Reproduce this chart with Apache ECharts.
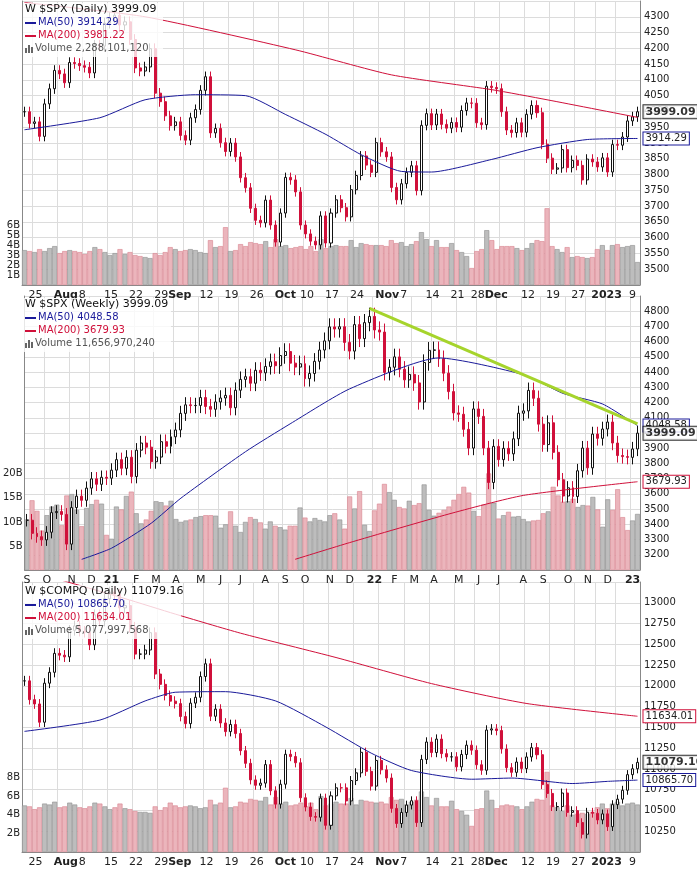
<!DOCTYPE html>
<html>
<head>
<meta charset="utf-8">
<script src="https://cdn.jsdelivr.net/npm/echarts@6/dist/echarts.min.js"></script>
<style>html,body{margin:0;padding:0;background:#fff}#chart{width:697px;height:877px}</style>
</head>
<body>
<div id="chart"></div>
<script>
// === Daily dates (trading days), Jul 21 2022 - Jan 13 2023
const DAILY_DAYS = {
  '2022-07': [21, 22, 25, 26, 27, 28, 29],
  '2022-08': [1, 2, 3, 4, 5, 8, 9, 10, 11, 12, 15, 16, 17, 18, 19, 22, 23, 24, 25, 26, 29, 30, 31],
  '2022-09': [1, 2, 6, 7, 8, 9, 12, 13, 14, 15, 16, 19, 20, 21, 22, 23, 26, 27, 28, 29, 30],
  '2022-10': [3, 4, 5, 6, 7, 10, 11, 12, 13, 14, 17, 18, 19, 20, 21, 24, 25, 26, 27, 28, 31],
  '2022-11': [1, 2, 3, 4, 7, 8, 9, 10, 11, 14, 15, 16, 17, 18, 21, 22, 23, 25, 28, 29, 30],
  '2022-12': [1, 2, 5, 6, 7, 8, 9, 12, 13, 14, 15, 16, 19, 20, 21, 22, 23, 27, 28, 29, 30],
  '2023-01': [3, 4, 5, 6, 9, 10, 11, 12, 13]
};

// x labels for the daily panels ('' = grid line only)
// "2023" and "9" sit too close to be two labels, so they share one
const DAILY_TICKS = {
  '2022-07-25': '25', '2022-08-01': '{b|Aug}', '2022-08-08': '8', '2022-08-15': '15',
  '2022-08-22': '22', '2022-08-29': '29{b|Sep}', '2022-09-06': '', '2022-09-12': '12',
  '2022-09-19': '19', '2022-09-26': '26', '2022-10-03': '{b|Oct}', '2022-10-10': '10',
  '2022-10-17': '17', '2022-10-24': '24', '2022-10-31': '{b|Nov}', '2022-11-07': '7',
  '2022-11-14': '14', '2022-11-21': '21', '2022-11-28': '28{b|Dec}', '2022-12-05': '',
  '2022-12-12': '12', '2022-12-19': '19', '2022-12-27': '27', '2023-01-03': '{b|2023}  9',
  '2023-01-09': ''
};

// $SPX daily closes
const SPX_CLOSE = [
  3999, 3962, 3967, 3921, 4024, 4072, 4130,
  4119, 4091, 4155, 4152, 4145, 4140, 4122, 4210, 4207, 4280, 4297, 4305, 4274, 4284, 4228, 4138, 4128, 4141, 4199, 4058, 4031, 3986, 3955,
  3967, 3924, 3909, 3980, 4006, 4067, 4110, 3932, 3946, 3901, 3873, 3900, 3856, 3790, 3758, 3693, 3655, 3647, 3719, 3640, 3586,
  3678, 3791, 3783, 3745, 3640, 3612, 3589, 3577, 3669, 3583, 3678, 3720, 3695, 3666, 3752, 3797, 3859, 3830, 3807, 3901, 3872,
  3856, 3759, 3720, 3771, 3807, 3828, 3749, 3956, 3993, 3957, 3992, 3959, 3947, 3965, 3950, 4003, 4027, 4026, 3964, 3958, 4080,
  4076, 4072, 3999, 3941, 3933, 3964, 3934, 3991, 4019, 3996, 3896, 3852, 3817, 3821, 3879, 3822, 3845, 3829, 3783, 3849, 3840,
  3824, 3853, 3808, 3895, 3893, 3919, 3970, 3983, 3999.09
];
// $SPX daily volume, billions
const SPX_VOL = [
  3.5, 3.4, 3.3, 3.6, 3.4, 3.7, 3.9,
  3.2, 3.4, 3.5, 3.4, 3.3, 3.1, 3.4, 3.8, 3.6, 3.3, 3.0, 3.2, 3.6, 3.1, 3.3, 3.0, 2.9, 2.8, 2.7, 3.2, 3.0, 3.3, 3.8,
  3.6, 3.4, 3.5, 3.6, 3.5, 3.3, 3.2, 4.5, 3.8, 3.9, 5.8, 3.4, 3.5, 4.1, 3.9, 4.3, 4.2, 4.1, 4.4, 3.8, 4.6,
  3.9, 4.0, 3.7, 3.8, 3.9, 3.6, 3.9, 3.4, 4.6, 3.7, 3.9, 4.0, 3.9, 3.9, 4.5, 3.8, 4.2, 4.1, 4.0, 4.0, 4.0,
  3.9, 4.5, 4.2, 4.3, 3.9, 4.1, 4.4, 5.3, 4.6, 3.9, 4.5, 3.8, 3.8, 4.2, 3.5, 3.3, 2.9, 1.7, 3.4, 3.6, 5.5,
  4.5, 3.6, 3.9, 3.9, 3.9, 3.7, 3.5, 3.7, 4.2, 4.5, 4.4, 7.7, 3.9, 3.6, 3.3, 3.8, 2.8, 2.9, 2.8, 2.7, 2.8,
  3.6, 4.0, 3.5, 4.0, 4.1, 3.8, 3.9, 4.0, 2.3
];
// moving averages: [day index, value]
const SPX_MA50 = [[0, 3942], [15, 3980], [24, 4037], [34, 4053], [44, 4050], [52, 3990], [60, 3927], [67, 3863], [75, 3810], [81, 3808], [93, 3848], [102, 3885], [112, 3911], [122, 3914.29]];
const SPX_MA200 = [[0, 4345], [24, 4300], [54, 4195], [73, 4116], [93, 4069], [104, 4037], [122, 3981.22]];

// $COMPQ daily closes
const COMPQ_CLOSE = [
  12060, 11834, 11782, 11562, 12032, 12163, 12391,
  12369, 12349, 12668, 12721, 12658, 12645, 12493, 12855, 12780, 13048, 13129, 13103, 12939, 12966, 12706, 12382, 12382, 12432, 12640, 12142, 12018, 11884, 11816,
  11786, 11631, 11545, 11792, 11862, 12112, 12266, 11634, 11720, 11553, 11449, 11535, 11426, 11220, 11067, 10868, 10803, 10829, 11052, 10737, 10576,
  10816, 11176, 11149, 11074, 10653, 10542, 10427, 10418, 10649, 10321, 10676, 10773, 10772, 10615, 10860, 10953, 11200, 10971, 10793, 11102, 10989,
  10891, 10525, 10343, 10476, 10565, 10617, 10354, 11114, 11324, 11197, 11359, 11184, 11144, 11146, 11025, 11174, 11286, 11226, 11050, 10984, 11468,
  11482, 11462, 11240, 11015, 10959, 11083, 11005, 11144, 11256, 11171, 10811, 10705, 10546, 10547, 10710, 10477, 10498, 10354, 10214, 10479, 10466,
  10386, 10459, 10305, 10570, 10636, 10743, 10931, 11002, 11079.16
];
const COMPQ_VOL = [
  5.0, 4.9, 4.6, 4.8, 5.2, 5.1, 5.4,
  4.8, 4.9, 5.3, 5.1, 4.8, 4.7, 4.9, 5.3, 5.2, 4.9, 4.6, 4.8, 5.2, 4.7, 4.6, 4.4, 4.3, 4.3, 4.2, 4.9, 4.5, 4.8, 5.3,
  5.0, 4.8, 4.9, 5.0, 4.9, 4.7, 4.8, 5.6, 5.1, 5.3, 6.9, 4.8, 4.9, 5.4, 5.3, 5.7, 5.6, 5.5, 5.9, 5.1, 5.9,
  5.2, 5.4, 5.0, 5.1, 5.3, 4.9, 5.3, 4.6, 6.0, 5.0, 5.2, 5.4, 5.2, 5.2, 5.8, 5.1, 5.6, 5.5, 5.4, 5.3, 5.4,
  5.2, 5.9, 5.6, 5.7, 5.1, 5.4, 5.6, 6.5, 5.9, 5.0, 5.8, 4.9, 4.9, 5.5, 4.6, 4.4, 4.0, 2.8, 4.6, 4.7, 6.6,
  5.6, 4.7, 5.0, 5.1, 5.0, 4.9, 4.6, 4.9, 5.4, 5.7, 5.6, 8.6, 5.0, 4.8, 4.4, 5.0, 4.0, 4.1, 4.2, 4.1, 4.3,
  4.8, 5.2, 4.7, 5.2, 5.4, 5.0, 5.2, 5.3, 5.1
];
const COMPQ_MA50 = [[0, 11452], [15, 11588], [24, 11818], [30, 11923], [40, 11930], [50, 11818], [60, 11504], [69, 11190], [77, 10981], [89, 10876], [97, 10890], [109, 10824], [116, 10850], [122, 10865.70]];
const COMPQ_MA200 = [[0, 13400], [20, 13050], [30, 12864], [43, 12634], [62, 12341], [81, 12027], [100, 11787], [122, 11634.01]];

// $SPX weekly closes, week of Sep 4 2020 - Jan 13 2023
const WEEK_START = '2020-09-04';
const SPXW_CLOSE = [
  3427, 3341, 3319, 3298, 3348, 3477, 3484, 3465, 3270, 3510, 3585, 3558, 3638, 3699, 3663, 3709, 3703, 3756,
  3825, 3768, 3841, 3714, 3887, 3934, 3907, 3811, 3842, 3943, 3913, 3975, 4020, 4129, 4185, 4180, 4181, 4233, 4174, 4156, 4204, 4230, 4247, 4166, 4281, 4352, 4370, 4327, 4412, 4395, 4437, 4468, 4442, 4509, 4535, 4459, 4433, 4455, 4357, 4391, 4471, 4545, 4605, 4697, 4683, 4698, 4595, 4538, 4712, 4620, 4725, 4766,
  4677, 4663, 4398, 4432, 4500, 4419, 4349, 4385, 4329, 4204, 4463, 4543, 4546, 4488, 4393, 4272, 4132, 4123, 4024, 3901, 4158, 4109, 3901, 3675, 3912, 3825, 3899, 3863, 3962, 4130, 4145, 4280, 4228, 4058, 3924, 4067, 3873, 3693, 3586, 3640, 3583, 3752, 3901, 3771, 3993, 3965, 4026, 4072, 3934, 3852, 3845, 3840,
  3895, 3999.09
];
const SPXW_VOL = [
  10.5, 14.5, 12.3, 8.2, 11.4, 13.2, 13.6, 9.3, 15.5, 15.8, 12.5, 9.1, 12.9, 13.7, 14.6, 13.8, 7.3, 6.5,
  13.2, 12.6, 15.4, 16.3, 11.8, 9.7, 10.5, 12.3, 14.3, 14.1, 13.4, 14.4, 10.6, 10.0, 10.3, 10.5, 11.0, 11.2, 11.4, 11.4, 11.3, 8.8, 9.5, 12.2, 9.2, 7.9, 10.0, 11.0, 10.6, 9.9, 8.6, 10.1, 9.2, 8.9, 8.4, 9.2, 9.2, 13.0, 10.9, 10.1, 10.8, 10.4, 10.1, 11.4, 11.8, 10.5, 8.6, 15.3, 12.8, 16.4, 9.4, 8.1,
  12.4, 13.8, 17.9, 16.2, 14.6, 13.1, 12.8, 14.4, 13.5, 13.9, 17.8, 12.5, 11.3, 11.9, 12.5, 13.2, 14.6, 15.8, 17.3, 16.1, 12.3, 11.2, 13.6, 20.1, 14.0, 10.7, 11.4, 12.1, 11.1, 11.2, 10.6, 10.1, 10.3, 10.4, 11.8, 12.2, 17.3, 15.5, 14.2, 14.3, 14.8, 13.1, 13.5, 13.4, 15.2, 12.6, 9.0, 14.7, 12.5, 16.8, 11.0, 8.3,
  10.3, 11.66
];
const SPXW_MA50 = [[11, 3170], [17, 3243], [25, 3407], [31, 3572], [44, 3877], [53, 4060], [65, 4290], [83, 4493], [100, 4383], [108, 4260], [116, 4190], [123, 4048.58]];
const SPXW_MA200 = [[54, 3170], [65, 3280], [85, 3468], [100, 3590], [123, 3679.93]];
// trendline from the Jan 2022 top
const TREND = [[69, 4818], [123, 4060]];

const MONTH_LETTERS = ['J', 'F', 'M', 'A', 'M', 'J', 'J', 'A', 'S', 'O', 'N', 'D'];

// === helpers
function pad(n) { return n < 10 ? '0' + n : '' + n; }

const dailyDates = [];
Object.keys(DAILY_DAYS).forEach(function (m) {
  DAILY_DAYS[m].forEach(function (d) { dailyDates.push(m + '-' + pad(d)); });
});
const weeklyDates = [];
(function () {
  const t = new Date(WEEK_START + 'T00:00:00Z');
  for (let i = 0; i < SPXW_CLOSE.length; i++) {
    const d = new Date(t.getTime() + i * 7 * 86400000);
    weeklyDates.push(d.getUTCFullYear() + '-' + pad(d.getUTCMonth() + 1) + '-' + pad(d.getUTCDate()));
  }
})();

// the daily ticks fall on week starts; the first trading day of that week gets the label
const dailyTickIdx = {};
Object.keys(DAILY_TICKS).forEach(function (k) {
  const i = dailyDates.findIndex(function (d) { return d >= k; });
  if (i >= 0) dailyTickIdx[i] = DAILY_TICKS[k];
});
const weeklyTickIdx = {};
weeklyDates.forEach(function (d, i) {
  if (i === 0 || d.slice(5, 7) !== weeklyDates[i - 1].slice(5, 7)) {
    const m = +d.slice(5, 7);
    weeklyTickIdx[i] = m === 1 ? '{b|' + d.slice(2, 4) + '}' : MONTH_LETTERS[m - 1];
  }
});

const UP = '#ffffff', DOWN = '#d0103a';

function candles(closes, wick) {
  return closes.map(function (c, i) {
    const o = i === 0 ? c : closes[i - 1];
    return [o, c, Math.min(o, c) * (1 - wick), Math.max(o, c) * (1 + wick)];
  });
}
function volumes(vols, closes) {
  return vols.map(function (v, i) {
    const down = i > 0 && closes[i] < closes[i - 1];
    return {
      value: v,
      itemStyle: down ? { color: '#ebb5bc', borderColor: '#d9838f', borderWidth: 0.6 }
                      : { color: '#bdbdbd', borderColor: '#8f8f8f', borderWidth: 0.6 }
    };
  });
}

const GRIDS = [
  { left: 22, right: 57, top: 1, height: 284 },
  { left: 22, right: 57, top: 296, height: 274 },
  { left: 22, right: 57, top: 582, height: 270 }
];

function xAxis(i, dates, ticks, align) {
  const f = function (idx) { return ticks[idx] !== undefined; };
  return {
    type: 'category', gridIndex: i, data: dates, boundaryGap: true,
    axisLine: { lineStyle: { color: '#888' } },
    axisTick: { show: false },
    splitLine: { show: true, interval: f, lineStyle: { color: '#dcdcdc' } },
    axisLabel: {
      interval: f, color: '#222', fontSize: 11, margin: 5, align: align, padding: align === 'left' ? [0, 0, 0, -6] : 0,
      fontFamily: 'DejaVu Sans', hideOverlap: false,
      formatter: function (v, idx) { return ticks[idx] || ''; },
      rich: { b: { fontWeight: 'bold', fontSize: 11, color: '#222', fontFamily: 'DejaVu Sans' } }
    }
  };
}
function priceAxis(i, min, max, interval) {
  return {
    type: 'value', gridIndex: i, position: 'right', min: min, max: max, interval: interval,
    axisLine: { show: true, lineStyle: { color: '#888' } },
    splitLine: { lineStyle: { color: '#dcdcdc' } },
    axisLabel: {
      color: '#222', fontSize: 10, margin: 4, fontFamily: 'DejaVu Sans',
      formatter: function (v) { return (v > min && v < max) ? v : ''; }
    }
  };
}
function volAxis(i, max, interval, top) {
  return {
    type: 'value', gridIndex: i, position: 'left', min: 0, max: max, interval: interval,
    axisLine: { show: true, lineStyle: { color: '#888' } }, splitLine: { show: false },
    axisLabel: {
      color: '#222', fontSize: 10, margin: 2, fontFamily: 'DejaVu Sans',
      formatter: function (v) { return v > 0 && v <= top ? v + 'B' : ''; }
    }
  };
}

function priceSeries(axisIdx, closes, wick, barW) {
  return {
    type: 'candlestick', xAxisIndex: axisIdx, yAxisIndex: axisIdx * 2, data: candles(closes, wick),
    barMaxWidth: barW, z: 3,
    itemStyle: { color: UP, borderColor: '#111', color0: DOWN, borderColor0: DOWN, borderWidth: 1 }
  };
}
function maSeries(axisIdx, data, color, label) {
  return {
    type: 'line', xAxisIndex: axisIdx, yAxisIndex: axisIdx * 2, data: data, symbol: 'none', z: 4,
    lineStyle: { color: color, width: 1 }, smooth: 0.2,
    endLabel: label ? {
      show: true, formatter: label, color: '#222', fontSize: 10, fontFamily: 'DejaVu Sans',
      backgroundColor: '#fff', borderColor: color, borderWidth: 1, padding: [1, 2], distance: 6
    } : { show: false }
  };
}
function lastLabel(axisIdx, closes, text) {
  return {
    type: 'scatter', xAxisIndex: axisIdx, yAxisIndex: axisIdx * 2, symbolSize: 0, z: 6,
    data: [[closes.length - 1, closes[closes.length - 1]]],
    label: {
      show: true, position: 'right', distance: 6, formatter: text, fontWeight: 'bold',
      color: '#000', fontSize: 11, fontFamily: 'DejaVu Sans', backgroundColor: '#fff',
      borderColor: '#000', borderWidth: 1, padding: [1, 2]
    }
  };
}
function volSeries(axisIdx, vols, closes) {
  return {
    type: 'bar', xAxisIndex: axisIdx, yAxisIndex: axisIdx * 2 + 1, data: volumes(vols, closes),
    barCategoryGap: '0%', z: 1
  };
}

function legendBox(top, l) {
  const T = function (x, y, text, fill, font) {
    return { type: 'text', x: x, y: y, z: 101, style: { text: text, fill: fill, font: font, textVerticalAlign: 'top', verticalAlign: 'top' } };
  };
  return {
    type: 'group', left: 23, top: top, z: 100,
    children: [
      { type: 'rect', z: 100, shape: { x: 0, y: 0, width: l.w, height: 54 }, style: { fill: 'rgba(255,255,255,0.8)' } },
      T(2, 1, 'W ' + l.t, '#111', '11px DejaVu Sans'),
      { type: 'rect', z: 101, shape: { x: 2, y: 19, width: 11, height: 2 }, style: { fill: '#1a1a9a' } },
      T(15, 14, l.a, '#1a1a9a', '10px DejaVu Sans'),
      { type: 'rect', z: 101, shape: { x: 2, y: 32, width: 11, height: 2 }, style: { fill: '#d0103a' } },
      T(15, 27, l.b, '#d0103a', '10px DejaVu Sans'),
      { type: 'rect', z: 101, shape: { x: 2, y: 45, width: 2, height: 5 }, style: { fill: '#666' } },
      { type: 'rect', z: 101, shape: { x: 5, y: 42, width: 2, height: 8 }, style: { fill: '#666' } },
      { type: 'rect', z: 101, shape: { x: 8, y: 44, width: 2, height: 6 }, style: { fill: '#666' } },
      T(12, 40, 'Volume ' + l.c, '#555', '10px DejaVu Sans')
    ]
  };
}

// === chart
const chart = echarts.init(document.getElementById('chart'));
chart.setOption({
  animation: false,
  backgroundColor: '#fff',
  grid: GRIDS,
  xAxis: [xAxis(0, dailyDates, dailyTickIdx, 'left'), xAxis(1, weeklyDates, weeklyTickIdx, 'center'), xAxis(2, dailyDates, dailyTickIdx, 'left')],
  yAxis: [
    priceAxis(0, 3450, 4350, 50), volAxis(0, 28.5, 1, 6),
    priceAxis(1, 3100, 4900, 100), volAxis(1, 57, 5, 20),
    priceAxis(2, 10000, 13250, 250), volAxis(2, 29, 2, 8)
  ],
  series: [
    volSeries(0, SPX_VOL, SPX_CLOSE),
    priceSeries(0, SPX_CLOSE, 0.004, 4),
    maSeries(0, SPX_MA50, '#1a1a9a', '3914.29'),
    maSeries(0, SPX_MA200, '#d0103a', null),
    lastLabel(0, SPX_CLOSE, '3999.09'),

    volSeries(1, SPXW_VOL, SPXW_CLOSE),
    Object.assign(priceSeries(1, SPXW_CLOSE, 0.012, 4), {
      markLine: {
        symbol: 'none', silent: true, label: { show: false },
        lineStyle: { color: '#a6d42c', width: 3, type: 'solid' },
        data: [[{ coord: TREND[0] }, { coord: TREND[1] }]]
      }
    }),
    maSeries(1, SPXW_MA50, '#1a1a9a', '4048.58'),
    maSeries(1, SPXW_MA200, '#d0103a', '3679.93'),
    lastLabel(1, SPXW_CLOSE, '3999.09'),

    volSeries(2, COMPQ_VOL, COMPQ_CLOSE),
    priceSeries(2, COMPQ_CLOSE, 0.005, 4),
    maSeries(2, COMPQ_MA50, '#1a1a9a', '10865.70'),
    maSeries(2, COMPQ_MA200, '#d0103a', '11634.01'),
    lastLabel(2, COMPQ_CLOSE, '11079.16')
  ],
  graphic: [
    legendBox(3, { w: 140, t: '$SPX (Daily) 3999.09', a: 'MA(50) 3914.29', b: 'MA(200) 3981.22', c: '2,288,101,120' }),
    legendBox(298, { w: 148, t: '$SPX (Weekly) 3999.09', a: 'MA(50) 4048.58', b: 'MA(200) 3679.93', c: '11,656,970,240' }),
    legendBox(585, { w: 158, t: '$COMPQ (Daily) 11079.16', a: 'MA(50) 10865.70', b: 'MA(200) 11634.01', c: '5,077,997,568' })
  ]
});
</script>
</body>
</html>
